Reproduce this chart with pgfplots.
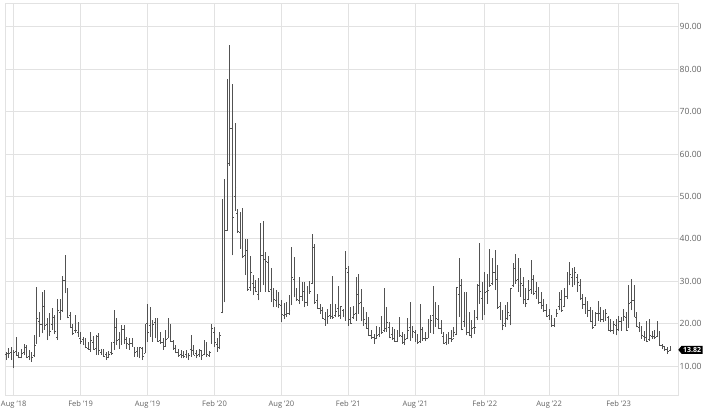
\documentclass[border=0pt]{standalone}
\usepackage{pgfplots}
\pgfplotsset{compat=1.18}
\usepackage{pgfplotstable}
\usepackage{fontspec}
\setmainfont{Open Sans}
\usetikzlibrary{shapes.symbols}
\definecolor{gridc}{HTML}{E2E2E2}
\definecolor{barc}{HTML}{525252}
\definecolor{labc}{HTML}{626262}
\pgfdeclareplotmark{openT}{\pgfpathmoveto{\pgfqpoint{-\pgfplotmarksize}{0pt}}\pgfpathlineto{\pgfqpoint{0pt}{0pt}}\pgfusepathqstroke}
\pgfdeclareplotmark{closeT}{\pgfpathmoveto{\pgfqpoint{\pgfplotmarksize}{0pt}}\pgfpathlineto{\pgfqpoint{0pt}{0pt}}\pgfusepathqstroke}
\pgfplotstableread{
i o h l c
0 12.8 13.4 11.4 12.9
1 12.9 14.2 11.8 13.0
2 13.2 14.5 11.4 11.6
3 11.8 13.8 9.5 13.2
4 13.4 16.9 12.6 12.6
5 12.8 13.4 11.8 12.0
6 12.0 14.0 11.8 12.9
7 13.3 15.3 12.6 14.9
8 14.5 15.0 11.8 12.1
9 12.3 13.8 11.4 11.7
10 12.0 13.4 11.0 12.1
11 12.5 17.3 12.2 14.8
12 15.5 28.7 15.3 21.3
13 20.5 22.8 16.9 19.9
14 19.9 27.5 17.7 24.2
15 24.0 27.9 18.5 19.5
16 19.8 21.2 16.1 17.4
17 18.2 22.5 17.0 18.1
18 19.8 23.6 18.5 21.5
19 20.6 22.0 17.5 18.1
20 16.8 25.9 16.1 23.2
21 22.6 25.9 20.8 21.6
22 23.0 31.2 22.8 30.1
23 30.3 36.1 27.1 28.3
24 28.1 28.3 21.2 21.4
25 21.9 22.8 18.9 19.1
26 19.0 20.0 17.3 17.8
27 18.5 22.0 17.7 18.4
28 18.0 20.4 16.9 17.0
29 16.5 18.1 15.3 15.7
30 16.3 16.9 14.9 15.0
31 15.0 16.5 14.2 14.5
32 14.2 15.7 13.8 14.0
33 14.3 18.1 13.4 16.0
34 15.6 17.0 13.8 14.0
35 14.2 17.3 12.6 16.5
36 17.0 17.7 12.6 13.7
37 13.3 14.1 12.6 12.8
38 13.5 14.1 12.2 12.3
39 12.7 13.4 11.4 12.1
40 12.6 13.6 11.8 12.7
41 13.2 15.7 12.6 12.9
42 15.6 23.1 13.8 16.0
43 19.0 21.2 14.9 16.0
44 16.3 18.1 14.1 15.9
45 17.5 19.6 14.9 18.7
46 18.7 19.6 15.3 16.3
47 15.7 16.9 14.1 15.3
48 15.0 16.5 13.8 15.4
49 15.3 16.5 14.5 15.1
50 14.4 14.5 12.2 13.3
51 13.5 14.5 12.2 12.4
52 12.7 14.5 11.8 14.4
53 14.2 14.5 11.4 12.2
54 13.0 20.0 13.0 17.6
55 20.0 24.7 15.7 18.0
56 19.5 23.9 16.9 18.5
57 16.6 20.8 15.7 19.9
58 20.3 21.2 16.5 19.0
59 19.8 21.2 15.7 15.8
60 16.0 18.1 15.3 15.6
61 15.5 16.5 13.8 14.2
62 14.6 18.5 14.5 16.2
63 16.5 21.2 16.5 17.0
64 18.0 20.0 15.7 15.9
65 15.9 16.1 13.8 14.2
66 14.4 14.9 13.0 13.2
67 13.3 14.1 12.2 12.6
68 12.8 13.8 11.8 12.1
69 12.5 13.6 11.8 12.3
70 12.8 13.8 11.8 12.3
71 12.5 13.0 11.4 12.6
72 14.0 17.3 12.2 13.6
73 14.0 14.9 12.6 12.6
74 13.0 13.8 11.8 12.5
75 12.7 14.1 12.2 13.4
76 13.6 13.8 11.5 12.6
77 12.8 16.1 12.6 15.0
78 14.8 15.7 12.2 12.7
79 12.6 13.6 12.2 13.3
80 17.0 20.0 15.3 18.8
81 18.0 19.2 14.5 15.5
82 15.2 16.5 13.4 13.7
83 14.5 18.0 14.0 17.1
84 22.6 49.4 22.4 40.1
85 35.0 54.1 25.0 41.9
86 42.0 77.6 41.9 57.8
87 57.8 85.8 57.2 66.0
88 66.0 76.4 36.1 45.0
89 50.0 67.3 46.6 52.0
90 46.0 47.0 41.4 41.7
91 41.5 46.2 37.7 38.2
92 38.0 47.3 35.4 35.9
93 36.0 40.0 31.4 37.2
94 37.0 40.0 27.8 28.0
95 28.5 36.0 27.8 32.0
96 29.5 31.4 26.7 28.2
97 28.5 30.2 27.4 27.5
98 27.0 30.7 25.5 26.0
99 27.6 43.8 27.4 36.1
100 36.0 44.3 29.0 35.1
101 35.0 36.8 27.4 34.7
102 34.5 36.0 27.4 27.7
103 28.0 33.2 25.0 27.3
104 27.0 28.3 23.8 25.7
105 25.5 28.0 24.0 25.8
106 25.5 27.4 23.6 24.5
107 24.3 25.5 20.3 22.2
108 22.0 24.8 21.0 22.1
109 22.2 25.0 21.5 22.5
110 22.5 26.7 22.0 23.0
111 24.5 38.0 24.3 30.8
112 30.5 35.6 26.2 26.9
113 27.0 28.5 25.4 25.8
114 25.5 30.9 24.6 26.4
115 26.5 29.7 25.4 27.6
116 27.5 29.7 23.8 25.0
117 25.0 28.9 24.2 27.4
118 27.5 30.1 27.0 27.6
119 29.5 41.1 29.3 38.0
120 37.5 38.7 24.6 24.9
121 25.5 27.0 23.5 23.6
122 23.5 24.6 22.3 23.7
123 23.0 23.8 21.1 21.2
124 21.0 22.7 19.5 20.8
125 21.0 23.5 19.9 21.6
126 22.0 24.6 21.1 21.6
127 24.5 31.3 21.1 21.5
128 22.0 24.6 21.5 22.8
129 23.5 28.9 21.9 21.6
130 22.0 24.2 21.1 24.0
131 23.0 23.5 21.5 21.9
132 21.5 37.2 20.7 33.1
133 32.0 33.6 19.5 20.9
134 21.0 23.8 19.9 20.0
135 21.5 24.2 21.1 22.1
136 22.5 30.9 20.7 28.0
137 27.0 31.7 22.3 24.7
138 25.0 28.2 20.5 20.7
139 21.0 23.8 19.5 21.0
140 20.0 22.7 18.8 18.9
141 20.0 21.5 17.1 17.3
142 17.3 18.4 16.4 16.7
143 16.8 17.6 15.2 16.3
144 16.5 19.5 16.4 17.3
145 17.5 19.1 16.8 18.6
146 18.5 21.9 17.6 18.0
147 18.5 28.5 18.0 18.8
148 20.5 23.8 18.0 20.2
149 19.0 20.4 16.5 16.8
150 17.5 19.2 16.1 16.4
151 16.5 18.8 15.7 15.7
152 15.9 18.4 15.6 17.8
153 18.0 21.6 16.9 17.2
154 17.0 18.0 15.3 15.6
155 15.3 17.6 14.9 16.2
156 16.5 21.2 16.5 18.5
157 19.0 25.1 16.0 17.2
158 17.5 19.5 16.5 18.2
159 18.0 18.5 15.7 16.2
160 16.2 17.5 15.2 15.5
161 15.7 24.7 15.4 18.6
162 18.5 19.2 15.9 16.4
163 16.4 18.0 15.8 16.4
164 16.5 21.0 16.5 20.9
165 20.5 22.0 17.8 20.8
166 22.0 28.8 17.5 17.8
167 19.5 25.0 19.2 21.2
168 21.0 24.3 18.8 18.8
169 18.8 20.8 17.6 17.8
170 17.0 18.0 15.3 15.4
171 15.5 17.6 15.0 16.3
172 16.3 18.0 15.3 16.5
173 16.5 18.4 15.7 16.3
174 16.5 19.2 16.9 17.9
175 17.5 28.7 17.2 28.6
176 27.0 35.4 21.6 30.7
177 29.0 30.6 18.4 18.7
178 20.5 27.5 19.2 21.6
179 22.0 27.5 17.2 18.0
180 18.0 22.8 17.2 17.2
181 17.5 20.8 16.5 18.8
182 19.0 23.1 17.6 19.2
183 21.5 29.4 20.8 28.9
184 29.0 38.9 24.7 27.7
185 26.0 29.8 20.8 23.2
186 24.0 32.2 22.0 27.4
187 27.5 31.8 24.7 27.8
188 29.0 37.7 28.7 29.0
189 29.5 35.4 29.0 32.0
190 32.0 37.3 27.9 30.8
191 30.5 33.8 23.5 23.9
192 24.0 25.1 20.8 21.0
193 21.0 23.1 18.4 19.6
194 20.0 24.3 19.2 21.2
195 21.5 25.1 20.8 22.7
196 22.0 28.3 19.6 28.2
197 29.0 34.2 28.7 33.4
198 33.0 36.5 29.4 30.2
199 30.5 35.4 27.5 28.9
200 29.0 33.0 26.3 29.4
201 29.0 31.0 24.7 25.7
202 25.5 28.3 23.9 24.8
203 25.8 30.2 25.5 27.8
204 28.0 35.0 27.0 31.1
205 30.5 31.4 26.7 27.2
206 27.5 29.8 25.9 26.7
207 27.0 28.7 24.7 25.0
208 25.0 27.5 23.5 24.2
209 24.0 25.9 22.8 23.0
210 23.0 24.7 21.6 21.8
211 22.0 23.5 20.8 21.2
212 21.0 22.0 19.2 19.5
213 19.5 21.2 19.2 20.6
214 21.8 23.5 21.6 22.5
215 24.0 27.5 23.1 25.6
216 25.0 27.9 22.8 23.0
217 24.0 28.3 23.9 26.3
218 26.5 32.2 25.9 29.9
219 30.0 34.6 29.0 31.6
220 31.0 33.0 28.7 31.4
221 31.5 33.4 29.0 32.0
222 31.0 31.8 27.5 29.7
223 29.0 30.6 25.6 25.8
224 26.0 27.0 23.5 24.6
225 24.5 26.2 22.3 22.5
226 23.5 25.4 21.5 23.1
227 23.0 23.9 20.3 20.5
228 20.5 23.1 18.7 19.1
229 19.6 22.7 19.5 22.3
230 22.5 25.4 20.7 22.6
231 22.5 23.9 20.3 20.9
232 21.0 23.1 20.3 21.7
233 21.5 23.5 20.7 22.3
234 21.5 21.9 18.3 18.4
235 18.5 21.1 18.0 18.4
236 18.5 20.7 17.6 19.9
237 19.5 21.1 17.2 18.5
238 18.6 21.9 18.3 20.5
239 20.5 21.5 18.3 20.0
240 20.8 23.5 20.7 21.7
241 21.5 22.7 18.3 18.5
242 19.2 29.0 19.1 24.8
243 25.0 30.6 23.1 25.5
244 25.5 29.0 21.5 21.7
245 21.5 22.7 19.1 19.3
246 19.2 20.3 18.0 18.4
247 18.5 19.5 16.4 17.1
248 17.0 18.3 16.0 16.8
249 16.8 20.7 15.6 15.8
250 16.2 21.1 16.0 17.2
251 17.0 18.3 16.4 16.9
252 17.0 18.5 16.4 16.8
253 17.0 20.7 16.8 18.0
254 17.8 18.3 14.8 14.9
255 14.8 15.2 14.0 14.6
256 14.6 14.8 13.6 13.9
257 13.9 14.4 12.8 13.4
258 13.7 14.8 13.6 13.82
}\vix
\begin{document}
\begin{tikzpicture}
\begin{axis}[
  at={(5bp,20bp)}, anchor=south west,
  scale only axis, width=673bp, height=392bp,
  xmin=-0.39, xmax=261.07, ymin=3.16, ymax=95.6,
  clip=false,
  axis line style={draw=gridc, line width=0.8bp},
  grid=major, major grid style={draw=gridc, line width=0.8bp},
  major tick length=0pt,
  xtick={3,29,55,81,107,133,159,186,211,238},
  xticklabels={Aug '18,Feb '19,Aug '19,Feb '20,Aug '20,Feb '21,Aug '21,Feb '22,Aug '22,Feb '23},
  ytick={10,20,...,90},
  yticklabel pos=right,
  xticklabel style={font=\fontsize{7.6}{9}\selectfont, text=labc, anchor=north, inner sep=0pt, yshift=-6bp},
  yticklabel style={font=\fontsize{8.6}{10}\selectfont, text=labc, anchor=west, inner sep=0pt, xshift=1.5bp,
    /pgf/number format/.cd, fixed, fixed zerofill, precision=2, assume math mode=true},
]
\addplot[draw=none, mark=none,
  error bars/.cd, y dir=plus, y explicit, error mark=none,
  error bar style={draw=barc, solid, line width=1bp}]
  table[x=i, y=l, y error expr=\thisrow{h}-\thisrow{l}] {\vix};
\addplot[barc, line width=0.8bp, only marks, mark=openT, mark size=1.2bp] table[x=i, y=o] {\vix};
\addplot[barc, line width=0.8bp, only marks, mark=closeT, mark size=1.2bp] table[x=i, y=c] {\vix};
\node[signal, signal to=west, signal pointer angle=100, fill=black, text=white,
  font=\fontsize{7}{7}\selectfont\bfseries, inner xsep=1.5bp, inner ysep=1.4bp,
  anchor=west] at (axis cs:261.07,13.82) {13.82};
\end{axis}
\pgfresetboundingbox
\path[use as bounding box] (0bp,0bp) rectangle (715bp,415bp);
\end{tikzpicture}
\end{document}
